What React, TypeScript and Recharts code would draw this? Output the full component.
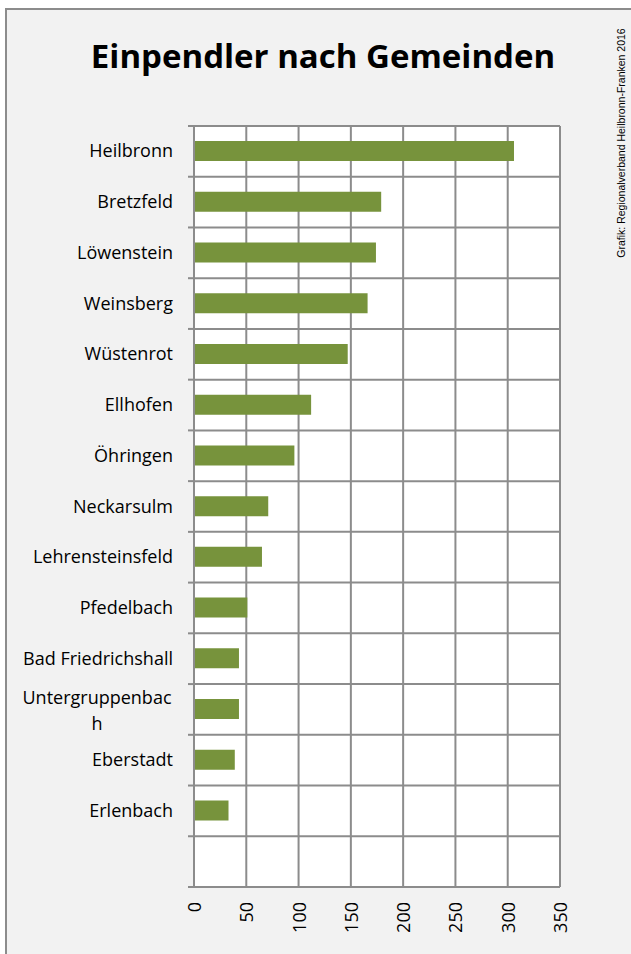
import React from 'react';
import { BarChart, Bar, XAxis, YAxis, CartesianGrid, usePlotArea } from 'recharts';

const gemeinden = [
  'Heilbronn',
  'Bretzfeld',
  'Löwenstein',
  'Weinsberg',
  'Wüstenrot',
  'Ellhofen',
  'Öhringen',
  'Neckarsulm',
  'Lehrensteinsfeld',
  'Pfedelbach',
  'Bad Friedrichshall',
  'Untergruppenbach',
  'Eberstadt',
  'Erlenbach',
  ' ',
];
const einpendler = [306, 179, 174, 166, 147, 112, 96, 71, 65, 51, 43, 43, 39, 33, null];
const xTicks = [0, 50, 100, 150, 200, 250, 300, 350];

const data = gemeinden.map((name, i) => ({ name, value: einpendler[i] }));

const GRID = '#8c8c8c';
const BAR = '#77933c';
const FONT = '"Open Sans", sans-serif';

// band boundaries (Excel puts gridlines + tick marks between categories)
const bandEdges = (top: number, height: number) =>
  Array.from({ length: gemeinden.length + 1 }, (_, i) => top + (i * height) / gemeinden.length);

const BandTickMarks = () => {
  const area = usePlotArea();
  if (!area) return null;
  return (
    <g>
      {bandEdges(area.y, area.height).map((y, i) => (
        <line key={i} x1={area.x - 6} x2={area.x} y1={y} y2={y} stroke={GRID} strokeWidth={2} />
      ))}
    </g>
  );
};

const CategoryTick = ({ x, y, payload }: any) => {
  if (payload.value === 'Untergruppenbach') {
    return (
      <text x={97} y={y} textAnchor="middle" fontFamily={FONT} fontSize={18} fill="#000">
        <tspan x={97} dy={-5}>Untergruppenbac</tspan>
        <tspan x={97} dy={26}>h</tspan>
      </text>
    );
  }
  return (
    <text x={x} y={y} dy={6} textAnchor="end" fontFamily={FONT} fontSize={18} fill="#000">
      {payload.value}
    </text>
  );
};

const ValueTick = ({ x, y, payload }: any) => (
  <text
    x={x}
    y={y}
    transform={`rotate(-90, ${x}, ${y})`}
    textAnchor="end"
    dominantBaseline="central"
    fontFamily={FONT}
    fontSize={18}
    fill="#000"
  >
    {payload.value}
  </text>
);

export default function App() {
  return (
    <div style={{ position: 'absolute', left: 0, top: 0, width: 631, height: 954, overflow: 'hidden' }}>
      <div
        style={{
          position: 'absolute',
          left: 5,
          top: 8,
          width: 700,
          height: 1000,
          background: '#f2f2f2',
          borderLeft: `2px solid ${GRID}`,
          borderTop: `2px solid ${GRID}`,
        }}
      />
      <div
        style={{
          position: 'absolute',
          left: 323,
          top: 55,
          transform: 'translate(-50%, -50%)',
          whiteSpace: 'nowrap',
          fontFamily: FONT,
          fontWeight: 700,
          fontSize: 33,
          color: '#000',
        }}
      >
        Einpendler nach Gemeinden
      </div>
      <div
        style={{
          position: 'absolute',
          left: 621,
          top: 143,
          transform: 'translate(-50%, -50%) rotate(-90deg)',
          whiteSpace: 'nowrap',
          fontFamily: '"Liberation Sans", Arial, sans-serif',
          fontSize: 10.5,
          color: '#000',
        }}
      >
        Grafik: Regionalverband Heilbronn-Franken 2016
      </div>
      <div style={{ position: 'absolute', left: 0, top: 0 }}>
        <BarChart
          width={631}
          height={954}
          data={data}
          layout="vertical"
          margin={{ top: 126, right: 71, bottom: 0, left: 0 }}
        >
          <CartesianGrid
            stroke={GRID}
            strokeWidth={2}
            fill="#fff"
            horizontalCoordinatesGenerator={({ offset }: any) => bandEdges(offset.top, offset.height)}
          />
          <YAxis
            type="category"
            dataKey="name"
            width={194}
            tickLine={false}
            tickSize={0}
            tickMargin={21}
            axisLine={{ stroke: GRID, strokeWidth: 2 }}
            tick={<CategoryTick />}
            interval={0}
          />
          <XAxis
            type="number"
            domain={[0, 350]}
            ticks={xTicks}
            height={67}
            axisLine={{ stroke: GRID, strokeWidth: 2 }}
            tickLine={false}
            tickSize={0}
            tickMargin={15}
            tick={<ValueTick />}
          />
          <Bar dataKey="value" fill={BAR} barSize={20} isAnimationActive={false} />
          <BandTickMarks />
        </BarChart>
      </div>
    </div>
  );
}
